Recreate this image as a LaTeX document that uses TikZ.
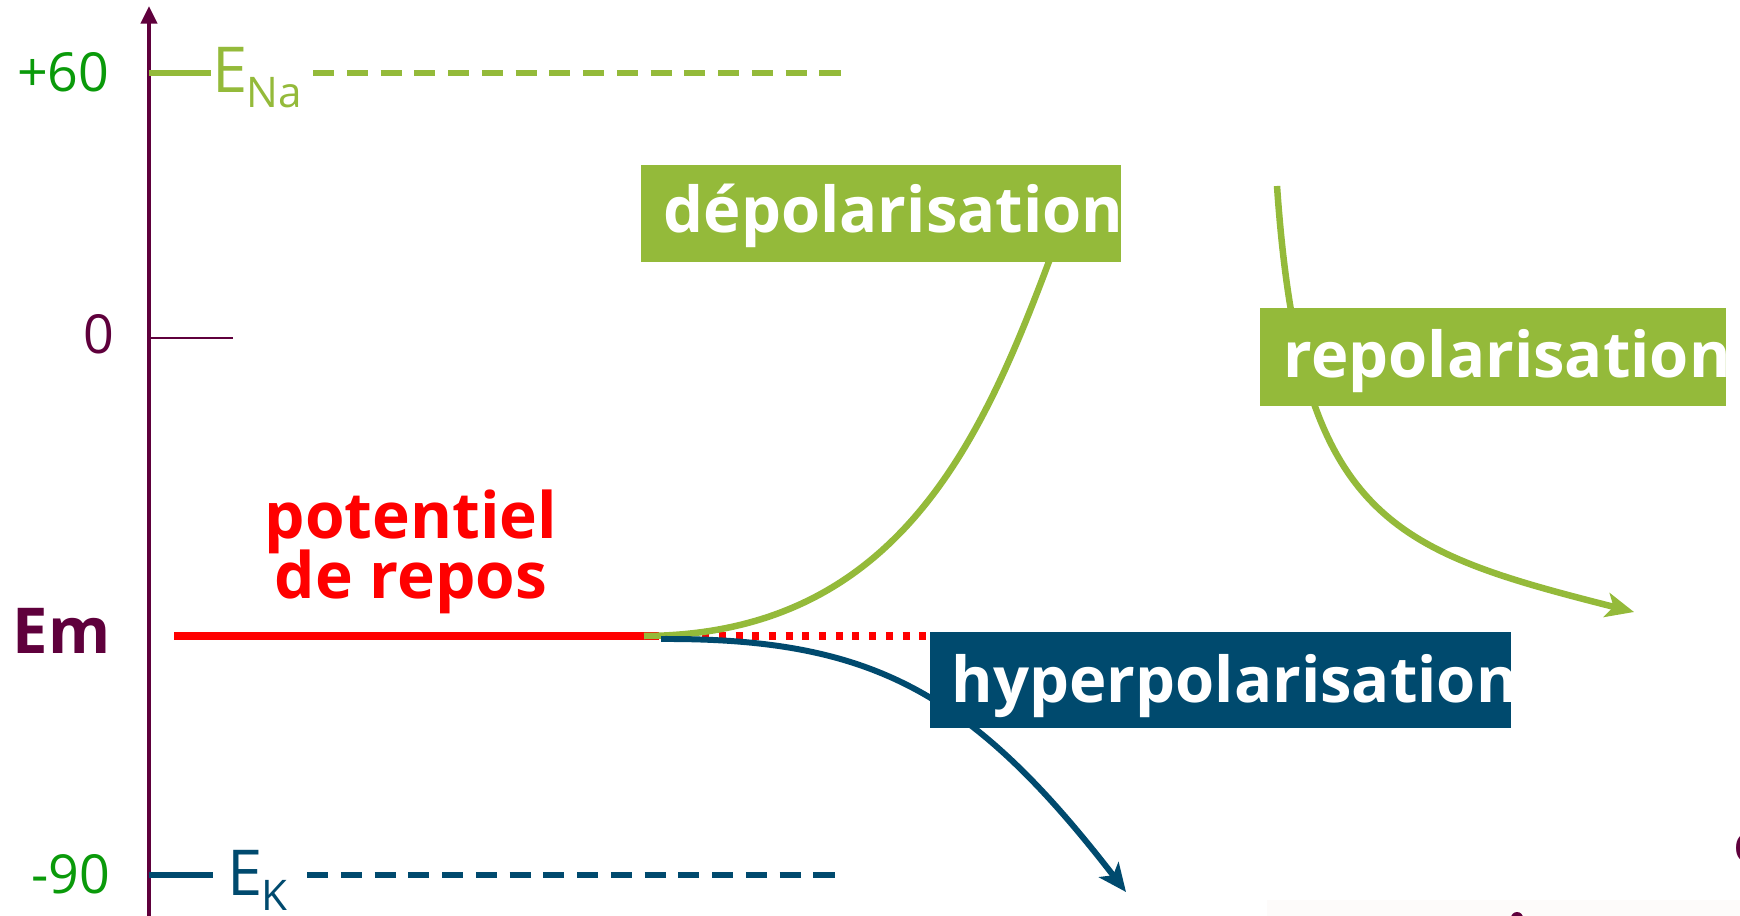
\documentclass[tikz,border=0pt]{standalone}
\usepackage{fontspec}
\setmainfont{Open Sans}
\usetikzlibrary{arrows.meta}
\definecolor{lgreen}{RGB}{148,186,58}
\definecolor{dblue}{RGB}{0,74,110}
\definecolor{maroon}{RGB}{95,0,60}
\definecolor{tgreen}{RGB}{10,154,10}
\definecolor{faint}{RGB}{253,251,250}
\tikzset{
  boxtext/.style={inner sep=0pt, text=white, font=\bfseries\fontsize{18}{22}\selectfont},
  labelbox/.style={inner sep=0pt, draw=none},
  numlbl/.style={inner sep=0pt, font=\fontsize{15.3}{18}\selectfont},
  elbl/.style={inner sep=0pt, font=\fontsize{18}{20}\selectfont},
  sublbl/.style={inner sep=0pt, font=\fontsize{12}{14}\selectfont},
  redtxt/.style={inner sep=0pt, text=red, font=\bfseries\fontsize{18.2}{22}\selectfont},
  curve/.style={line width=1.85pt},
  refline/.style={line width=1.5pt, dash pattern=on 6pt off 3.6pt},
  tip/.style={-{Stealth[length=8pt,width=7pt,inset=2pt]}},
}
\begin{document}
\begin{tikzpicture}[x=0.01cm,y=-0.01cm]
\useasboundingbox (0,0) rectangle (1740,916);
% faint artefacts at the bottom right
\fill[faint] (1267,900) rectangle (1740,916);
\fill[maroon] (1517,918) circle (6);
\node[numlbl, text=maroon, anchor=base west] (cut) at (1733,862) {c};

% axis
\coordinate (axbot) at (149,916);
\coordinate (axtop) at (149,6);
\draw[maroon, line width=1.3pt, -{Triangle[length=5pt,width=4.5pt]}] (axbot) -- (axtop);

% +60 / E_Na
\coordinate (t60a) at (149,73);
\coordinate (t60b) at (211,73);
\draw[lgreen, line width=1.5pt] (t60a) -- (t60b);
\node[numlbl, text=tgreen, anchor=base east] (p60) at (110,92) {+60};
\node[elbl, text=lgreen, anchor=base west] (ena) at (212,93) {E};
\node[sublbl, text=lgreen, anchor=base west] (enasub) at (246,108) {Na};
\coordinate (enad1) at (313,73);
\coordinate (enad2) at (845,73);
\draw[lgreen, refline] (enad1) -- (enad2);

% 0
\coordinate (t0a) at (149,338);
\coordinate (t0b) at (233,338);
\draw[maroon, line width=0.6pt] (t0a) -- (t0b);
\node[numlbl, text=maroon, anchor=base east] (zero) at (115,354) {0};

% -90 / E_K
\coordinate (t90a) at (149,875);
\coordinate (t90b) at (213,875);
\draw[dblue, line width=1.5pt] (t90a) -- (t90b);
\node[numlbl, text=tgreen, anchor=base east] (m90) at (111,893) {-90};
\node[elbl, text=dblue, anchor=base west] (ek) at (227,895) {E};
\node[sublbl, text=dblue, anchor=base west] (eksub) at (261,910) {K};
\coordinate (ekd1) at (307,875);
\coordinate (ekd2) at (836,875);
\draw[dblue, refline] (ekd1) -- (ekd2);

% Em
\node[inner sep=0pt, text=maroon, font=\bfseries\fontsize{18}{22}\selectfont, anchor=base west] (em) at (12,653) {Em};

% resting potential
\node[redtxt, anchor=base] (pot1) at (411,539) {potentiel};
\node[redtxt, anchor=base] (pot2) at (411,598) {de repos};
\coordinate (rest0) at (174,636);
\coordinate (rest1) at (652,636);
\coordinate (rest2) at (935,636);
\draw[red, line width=2.3pt] (rest0) -- (rest1);
\draw[red, line width=2pt, dash pattern=on 2pt off 2.75pt] (rest1) -- (rest2);

% depolarisation curve
\coordinate (dep0) at (644,636);
\coordinate (dep1) at (1060,232);
\draw[lgreen, curve] (dep0) .. controls (910,635) and (990,420) .. (dep1);

% repolarisation curve
\coordinate (rep0) at (1277,186);
\coordinate (rep1) at (1634,612);
\draw[lgreen, curve, tip] (rep0) .. controls (1300,520) and (1390,550) .. (rep1);

% hyperpolarisation curve
\coordinate (hyp0) at (661,639);
\coordinate (hyp1) at (1126,892);
\draw[dblue, line width=1.7pt, tip] (hyp0) .. controls (870,638) and (970,690) .. (hyp1);

% label boxes
\node[labelbox, fill=lgreen, minimum width=4.80cm, minimum height=0.97cm] (depbox) at (881,213.5) {};
\node[boxtext, anchor=base west] (deptext) at (663,233) {dépolarisation};
\node[labelbox, fill=lgreen, minimum width=4.66cm, minimum height=0.97cm] (repbox) at (1493,357) {};
\node[boxtext, anchor=base west] (reptext) at (1283,378) {repolarisation};
\node[labelbox, fill=dblue, minimum width=5.81cm, minimum height=0.96cm] (hypbox) at (1220.5,680) {};
\node[boxtext, anchor=base west] (hyptext) at (951,702) {hyperpolarisation};
% keep box borders crisp over overflowing white text
\fill[white] (1121,160) rectangle (1200,270);
\fill[white] (1726,300) rectangle (1745,410);
\fill[white] (1511,625) rectangle (1560,735);
\end{tikzpicture}
\end{document}
